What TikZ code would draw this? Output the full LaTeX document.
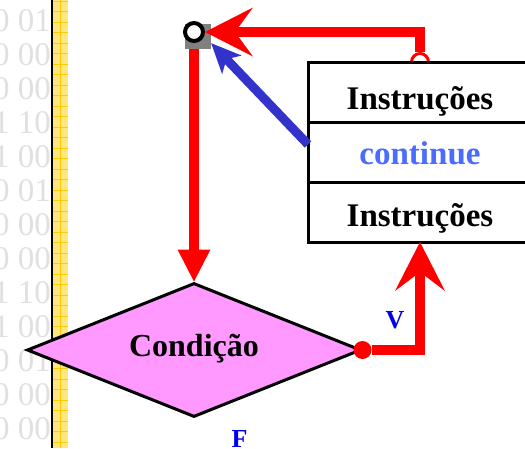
\documentclass[tikz,border=0pt]{standalone}
\usepackage{fontspec}
\setmainfont{Liberation Serif}
\usetikzlibrary{positioning, shapes.geometric, arrows.meta}

\definecolor{flowred}{HTML}{FF0000}
\definecolor{condpink}{HTML}{FF99FF}
\definecolor{jumpblue}{HTML}{3333CC}
\definecolor{kwblue}{HTML}{4A6CFF}
\definecolor{lblblue}{HTML}{0000EE}
\definecolor{stripyellow}{HTML}{FFE680}
\definecolor{gridyellow}{HTML}{FFCC00}

\begin{document}
\begin{tikzpicture}[x=1pt, y=-1pt, line join=miter,
    flow/.style={draw=flowred, line width=10pt},
    jump/.style={draw=jumpblue, line width=9pt},
    row/.style={draw, line width=3pt, fill=white, outer sep=0pt, inner sep=0pt,
                minimum width=224pt, minimum height=59.67pt,
                font=\fontsize{33}{36}\selectfont\bfseries},
    bits/.style={text=black!12, inner sep=0pt, font=\fontsize{33}{36}\selectfont},
    lbl/.style={text=lblblue, inner sep=0pt, font=\fontsize{26}{30}\selectfont\bfseries}]

    \clip (0,0) rectangle (525,448);

    % --- Left margin: faint binary digits and yellow ruled strip ---
    \foreach \bits [count=\i] in {0 01,0 00,0 00,1 10,1 00,0 01,0 00,0 00,1 10,1 00,0 01,0 00,0 00}
        \node[bits, anchor=west] (bits\i) at (-7, {21+34*(\i-1)}) {\bits};
    \fill[stripyellow] (52,0) rectangle (68,448);
    \foreach \y in {1,11.5,...,448}
        \draw[gridyellow, line width=0.8pt] (52,\y) -- (68,\y);
    \draw[gridyellow, line width=0.8pt] (60.7,0) -- (60.7,448);
    \draw[line width=1.5pt] (52,0) -- (52,448);

    % --- Loop return point (top left) ---
    \node[fill=gray, minimum width=26pt, minimum height=25pt, inner sep=0pt] (joint) at (198,36.5) {};
    \node[circle, draw, line width=4pt, fill=white, minimum size=18pt, inner sep=0pt] (loop) at (194,32) {};

    % --- Loop body: ring on top, then the three rows ---
    \node[circle, draw=flowred, line width=3pt, fill=white, minimum size=17pt, inner sep=0pt] (ring) at (420,62) {};
    \node[row, text height=47pt, text depth=12.67pt] (instrA) at (420,92.83) {Instruções};
    \node[row, text height=42pt, text depth=17.67pt, text=kwblue, below=0pt of instrA] (cont) {continue};
    \node[row, text height=44pt, text depth=15.67pt, below=0pt of cont] (instrB) {Instruções};

    % --- Decision ---
    \node[diamond, aspect=2.49, draw, line width=3pt, fill=condpink, inner sep=0pt,
          minimum width=334pt, minimum height=134pt, text height=22pt, text depth=10pt,
          font=\fontsize{32}{36}\selectfont\bfseries] (cond) at (194,350) {Condição};
    \node[circle, fill=flowred, minimum size=18pt, inner sep=0pt] (tipdot) at (cond.east) {};

    % --- Red flow lines ---
    \draw[flow, -{Triangle[length=32pt,width=33pt,line width=0pt]}] (loop |- joint.south) -- (cond.north);
    \draw[flow, -{Stealth[length=48pt,width=49pt,inset=18pt,line width=0pt]}] (ring.north) |- (loop.east);
    \draw[flow, -{Stealth[length=49pt,width=50pt,inset=19pt,line width=0pt]}] (tipdot.east) -| (instrB.south);

    % --- continue jumps back to the loop test ---
    \draw[jump, -{Stealth[length=30pt,width=27pt,inset=8pt,line width=0pt]}] ([yshift=8pt]cont.west) -- ([yshift=6pt]joint.south east);

    % --- Branch labels ---
    \node[lbl] (vlabel) at (395,320) {V};
    \node[lbl] (flabel) at (239.5,438.5) {F};

\end{tikzpicture}
\end{document}
